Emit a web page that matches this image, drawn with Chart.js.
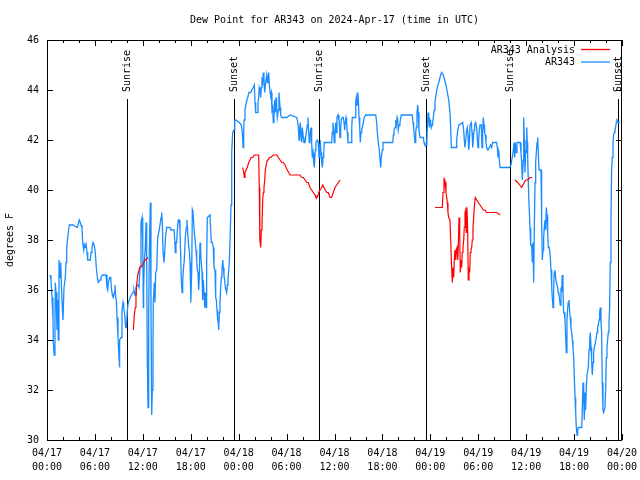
<!DOCTYPE html>
<html>
<head>
<meta charset="utf-8">
<title>Dew Point for AR343</title>
<script src="https://cdn.jsdelivr.net/npm/chart.js"></script>
<style>
  body { margin: 0; background: #fff; }
  #wrap { width: 640px; height: 480px; }
</style>
</head>
<body>
<div id="wrap"><canvas id="dewChart" width="640" height="480"></canvas></div>
<script>
// hours since 2024-04-17 00:00 UTC
const obsHours = [
  0.38,0.50,0.63,0.75,0.79,0.91,1.00,1.04,1.13,1.25,
  1.34,1.41,1.50,1.63,1.72,1.82,1.92,2.00,2.13,2.29,
  2.38,2.47,2.59,2.67,2.79,3.26,3.79,3.88,3.97,4.04,
  4.17,4.26,4.38,4.47,4.60,4.67,4.76,4.88,5.01,5.10,
  5.42,5.51,5.63,5.76,5.92,6.05,6.17,6.35,6.42,6.64,
  6.76,6.97,7.26,7.39,7.51,7.60,7.68,7.85,7.98,8.05,
  8.18,8.30,8.43,8.51,8.60,8.68,8.77,8.89,9.02,9.05,
  9.14,9.27,9.39,9.52,9.60,9.73,9.85,9.93,10.06,10.18,
  10.31,10.43,10.56,10.77,10.89,11.02,11.14,11.27,11.40,11.52,
  11.65,11.77,11.90,11.99,12.06,12.10,12.18,12.31,12.40,12.48,
  12.56,12.65,12.73,12.81,12.94,13.02,13.11,13.19,13.27,13.31,
  13.44,13.52,13.61,13.73,13.86,13.99,14.06,14.19,14.28,14.36,
  14.44,14.53,14.65,14.74,14.86,14.99,15.40,15.53,15.74,15.90,
  15.99,16.07,16.15,16.24,16.32,16.44,16.57,16.65,16.74,16.82,
  16.91,16.99,17.07,17.19,17.32,17.44,17.53,17.62,17.74,17.82,
  17.91,17.99,18.03,18.12,18.20,18.28,18.37,18.45,18.57,18.66,
  18.74,18.82,18.91,18.99,19.07,19.16,19.24,19.32,19.41,19.49,
  19.57,19.66,19.74,19.82,19.91,19.99,20.07,20.41,20.50,20.57,
  20.70,20.82,20.91,21.04,21.12,21.20,21.29,21.37,21.45,21.50,
  21.58,21.66,21.75,21.83,21.91,22.00,22.08,22.16,22.25,22.33,
  22.41,22.50,22.58,22.66,22.75,22.83,22.95,23.04,23.13,23.25,
  23.42,23.51,23.63,24.08,24.33,24.46,24.55,24.63,24.67,24.79,
  24.96,25.13,25.29,25.51,25.63,25.83,25.96,26.05,26.13,26.34,
  26.42,26.51,26.58,26.67,26.76,26.83,26.92,27.01,27.09,27.17,
  27.26,27.38,27.51,27.59,27.67,27.76,27.84,27.93,28.01,28.09,
  28.17,28.26,28.34,28.42,28.51,28.59,28.68,28.76,28.84,28.97,
  29.05,29.18,29.26,29.39,30.01,30.43,31.27,31.35,31.47,31.56,
  31.64,31.72,31.81,31.89,31.97,32.10,32.18,32.31,32.43,32.47,
  32.60,32.68,32.77,32.85,32.93,33.06,33.14,33.22,33.31,33.39,
  33.47,33.60,33.68,33.85,33.97,34.06,34.14,34.23,34.31,34.40,
  34.48,34.56,34.65,34.72,34.94,35.65,35.72,35.81,35.90,35.97,
  36.06,36.15,36.23,36.31,36.44,36.56,36.60,36.69,36.77,36.85,
  36.98,37.10,37.19,37.28,37.35,37.44,37.52,37.60,37.69,38.07,
  38.16,38.23,38.57,38.66,38.73,38.82,38.91,38.99,39.07,39.16,
  39.23,39.32,39.41,39.48,39.61,39.73,39.91,41.16,41.28,41.36,
  41.48,41.61,41.70,41.79,41.86,41.99,42.07,43.29,43.37,43.45,
  43.58,43.67,43.74,43.83,43.91,43.99,44.08,44.20,44.36,45.74,
  45.83,45.91,45.99,46.08,46.17,46.24,46.33,46.42,46.49,46.58,
  46.71,47.12,47.21,47.33,47.55,47.62,47.71,47.80,47.87,47.96,
  48.04,48.12,48.21,48.29,48.37,48.50,48.58,48.71,48.87,49.05,
  49.21,49.30,49.42,49.62,49.80,49.96,50.13,50.30,50.46,50.55,
  50.63,51.22,51.30,51.43,51.59,52.05,52.18,52.25,52.34,52.43,
  52.55,52.63,52.72,52.81,52.88,52.97,53.13,53.22,53.31,53.38,
  53.47,53.55,53.68,53.80,53.88,53.97,54.05,54.13,54.22,54.38,
  54.47,54.55,54.63,54.72,54.80,54.88,54.97,55.05,55.22,55.38,
  55.55,55.68,55.80,55.89,56.31,56.39,56.47,56.56,56.64,56.73,
  57.89,58.10,58.19,58.32,58.39,58.48,58.57,58.64,58.73,58.85,
  59.23,59.35,59.44,59.52,59.64,59.69,59.77,59.85,59.94,59.98,
  60.07,60.14,60.19,60.32,60.39,60.48,60.57,60.69,60.77,60.86,
  60.94,61.02,61.11,61.19,61.27,61.36,61.44,61.52,61.61,61.86,
  61.94,62.02,62.11,62.19,62.27,62.36,62.44,62.52,62.61,62.69,
  62.77,62.90,63.02,63.11,63.20,63.27,63.36,63.44,63.52,63.61,
  63.69,63.77,63.86,63.94,64.02,64.11,64.19,64.27,64.36,64.44,
  64.52,64.61,64.69,64.77,64.86,64.95,65.02,65.11,65.20,65.27,
  65.36,65.45,65.52,65.61,65.70,65.78,65.86,65.95,66.03,66.12,
  66.20,66.28,66.37,66.45,66.53,66.96,67.03,67.12,67.20,67.28,
  67.37,67.45,67.53,67.62,67.70,67.78,67.87,67.96,68.03,68.12,
  68.20,68.28,68.37,68.45,68.53,68.62,68.78,68.87,68.95,69.03,
  69.12,69.20,69.28,69.37,69.45,69.53,69.62,69.70,69.87,69.96,
  70.03,70.12,70.20,70.28,70.37,70.45,70.53,70.62,70.70,70.78,
  70.87,70.95,71.03,71.12,71.20,71.28,71.37,71.58,71.75
];
const obsValues = [
  36.6,36.4,35.7,34.8,33.9,33.4,34.8,36.3,35.9,34.4,
  35.6,34.0,37.2,36.5,37.1,36.0,35.3,34.8,36.1,36.5,
  37.1,37.7,38.1,38.3,38.6,38.6,38.5,38.5,38.7,38.8,
  38.7,38.6,38.5,37.9,37.6,37.8,37.7,37.9,37.5,37.2,
  37.2,37.5,37.7,37.9,37.8,37.5,36.9,36.4,36.3,36.4,
  36.5,36.6,36.6,36.6,36.1,36.0,36.3,36.5,36.5,36.1,
  35.8,35.7,35.9,36.2,35.7,35.6,34.9,34.1,33.3,32.9,
  34.0,34.1,35.2,35.5,35.3,35.0,34.5,34.5,35.2,35.5,
  35.6,35.7,35.8,35.9,36.0,35.8,36.1,36.2,36.2,36.1,
  36.9,38.7,38.9,37.8,35.3,36.0,37.1,37.7,38.7,37.2,
  33.2,31.3,34.9,37.5,39.5,35.3,31.0,32.0,33.7,35.5,
  36.3,35.5,36.7,36.8,38.1,38.3,38.4,38.7,38.9,39.1,
  38.7,37.5,37.1,37.5,38.2,38.5,38.5,38.4,38.4,38.4,
  38.0,37.5,37.9,37.9,38.4,38.8,38.8,38.4,37.4,36.4,
  35.9,36.3,36.8,37.2,38.1,38.5,38.8,38.3,37.7,37.6,
  37.1,36.5,35.5,36.8,39.2,39.1,38.7,38.3,37.9,37.6,
  37.2,36.8,36.7,36.0,36.5,37.9,37.5,37.1,36.7,35.6,
  36.4,35.9,35.3,35.9,35.3,37.1,38.9,39.0,38.4,37.9,
  37.9,37.7,36.9,36.8,35.7,35.6,35.2,34.8,34.7,34.4,
  35.1,35.5,36.1,36.5,36.8,37.2,36.9,36.6,36.4,36.1,
  36.0,35.9,36.2,36.4,36.8,37.1,38.3,39.4,41.5,42.3,
  42.4,42.8,42.8,42.7,42.6,42.3,41.7,42.2,42.8,43.2,
  43.5,43.7,43.9,43.9,44.0,44.1,44.2,43.5,43.1,43.1,
  43.5,43.7,44.1,44.0,43.7,44.1,44.4,44.3,44.7,44.4,
  43.9,44.3,44.6,44.3,44.5,44.7,44.2,43.9,43.8,43.9,
  43.2,43.3,42.7,42.9,43.6,43.1,43.7,43.3,42.9,43.2,
  43.9,43.3,43.0,42.9,42.9,43.0,42.9,42.8,42.5,42.0,
  42.5,42.7,42.2,41.9,42.5,42.1,41.9,41.9,41.9,42.3,
  42.6,42.9,42.3,41.9,42.2,42.5,41.9,41.3,41.5,41.1,
  40.9,41.6,41.9,42.0,41.9,41.3,41.8,41.9,41.5,41.1,
  40.9,41.3,41.5,41.9,41.9,41.9,42.3,42.7,42.3,41.9,
  42.3,42.7,42.3,42.9,43.0,42.8,42.7,42.1,42.5,42.8,
  42.9,42.9,42.7,42.4,42.7,42.9,42.7,42.3,41.9,41.9,
  42.5,42.9,42.9,43.5,43.7,43.4,43.9,43.6,42.9,42.5,
  41.9,42.3,42.4,42.5,42.7,42.9,43.0,43.0,42.7,42.3,
  41.9,41.6,41.2,40.9,41.3,41.6,41.9,41.9,42.2,42.4,
  42.5,42.8,42.6,42.9,42.8,42.4,42.6,42.7,43.0,43.0,
  42.7,42.5,42.2,41.9,42.3,42.5,43.1,43.4,43.1,42.4,
  42.1,42.1,41.9,41.8,41.8,42.5,43.1,42.9,42.5,42.8,
  42.7,42.5,42.6,42.7,42.9,43.2,43.5,43.8,44.1,44.3,
  44.5,44.6,44.7,44.6,44.4,44.2,43.9,43.6,43.1,42.5,
  41.7,41.7,42.0,42.4,42.6,42.7,42.4,42.0,41.7,42.0,
  42.4,42.5,42.2,41.6,41.9,42.6,42.7,42.3,41.7,42.0,
  42.4,42.6,42.7,42.5,42.1,41.7,42.0,42.4,42.6,42.6,
  41.7,42.3,42.9,42.6,42.3,42.2,41.9,41.7,41.6,41.7,
  41.8,41.7,41.9,41.9,41.9,41.7,41.3,41.6,41.2,40.9,
  40.9,41.0,41.2,41.4,41.6,41.9,41.3,41.9,41.5,41.9,
  41.9,41.5,41.1,40.4,41.2,42.9,42.0,40.7,41.6,41.5,
  42.5,41.9,41.3,39.7,39.2,38.5,37.8,37.8,37.1,37.9,
  36.3,38.5,40.3,41.1,41.5,41.9,42.1,41.5,40.8,40.8,
  38.8,37.2,37.6,38.1,38.5,38.8,38.4,39.3,39.0,38.3,
  37.7,37.7,37.3,36.8,36.1,35.7,35.3,36.0,36.7,36.8,
  36.5,36.3,36.3,36.1,35.9,35.8,35.6,35.4,36.1,35.9,
  36.6,36.0,35.1,35.1,34.8,34.1,33.5,34.8,35.3,35.5,
  35.6,35.1,34.9,34.5,34.3,34.0,33.7,33.3,32.5,31.7,
  31.1,30.5,30.2,30.4,30.5,30.5,31.3,32.3,31.7,30.8,
  31.9,31.2,32.1,32.6,32.6,32.9,33.6,34.0,34.3,33.7,
  33.2,32.6,33.1,33.5,33.7,33.8,34.1,34.3,34.5,34.6,
  34.8,35.1,35.3,34.7,34.3,32.3,31.2,31.1,31.3,32.1,
  33.3,33.7,34.0,34.3,34.7,35.3,37.1,38.9,40.8,41.3,
  41.9,42.2,42.3,42.4,42.5,42.7,42.8,42.7,42.7
];

// analysis series, null marks a gap
const anaHours = [
  10.81,10.93,11.06,11.14,11.23,11.36,11.61,11.98,12.27,12.69,
  18.00,
  24.51,24.63,24.71,24.79,24.92,25.08,25.26,25.42,25.55,25.76,
  25.96,26.17,26.42,26.51,26.58,26.63,26.67,26.76,26.83,26.92,
  27.01,27.09,27.17,27.26,27.34,27.51,27.59,27.71,27.84,28.01,
  28.34,28.64,28.80,28.97,29.18,29.39,29.59,29.80,29.93,30.09,
  30.26,30.43,30.64,31.05,31.27,31.47,31.68,31.89,32.10,32.31,
  32.52,32.72,32.93,33.14,33.35,33.56,33.68,33.85,34.02,34.18,
  34.40,34.52,34.69,34.85,35.02,35.22,35.44,35.65,35.85,36.06,
  36.28,36.48,36.69,
  42.00,
  48.58,49.50,49.59,49.71,49.80,49.87,49.96,50.05,50.13,50.21,
  50.30,50.46,50.55,50.63,50.71,50.75,50.84,50.92,51.00,51.09,
  51.18,51.25,51.34,51.43,51.50,51.59,51.68,51.75,51.84,51.93,
  52.00,52.09,52.18,52.25,52.34,52.43,52.50,52.59,52.68,52.75,
  52.84,52.93,53.00,53.09,53.18,53.25,53.34,53.43,53.50,53.63,
  53.80,54.01,54.22,54.43,54.63,54.85,55.05,55.47,55.89,56.31,
  56.73,
  57.50,
  58.60,58.94,59.19,59.44,59.60,59.77,59.94,60.19,60.48,60.77
];
const anaValues = [
  34.4,35.0,35.3,35.7,36.2,36.6,36.9,37.0,37.2,37.3,
  null,
  40.9,40.7,40.5,40.7,40.8,40.9,41.1,41.2,41.3,41.3,
  41.4,41.4,41.4,41.4,40.1,38.8,38.0,37.7,38.4,38.6,
  39.6,39.9,40.1,40.4,40.8,41.1,41.2,41.2,41.3,41.3,
  41.4,41.4,41.4,41.3,41.2,41.1,41.1,41.0,40.9,40.8,
  40.7,40.6,40.6,40.6,40.6,40.6,40.6,40.5,40.5,40.4,
  40.3,40.3,40.1,40.0,39.9,39.8,39.7,39.7,39.9,40.0,
  40.1,40.2,40.1,40.0,39.9,39.9,39.7,39.7,39.9,40.1,
  40.2,40.3,40.4,
  null,
  39.3,39.3,39.9,40.5,40.2,40.3,39.9,39.7,39.5,39.1,
  38.9,38.8,38.0,37.2,37.2,36.3,36.9,36.5,37.2,37.6,
  37.2,37.6,37.7,37.2,37.7,38.9,38.3,36.7,37.2,36.9,
  37.5,37.7,38.0,38.5,39.1,39.2,38.3,39.3,38.3,36.4,
  36.9,36.7,37.5,37.6,37.7,38.0,38.5,38.9,39.3,39.7,
  39.6,39.5,39.4,39.3,39.2,39.2,39.1,39.1,39.1,39.1,
  39.0,
  null,
  40.4,40.3,40.2,40.1,40.2,40.3,40.4,40.4,40.5,40.5
];

const tickHours = [0, 6, 12, 18, 24, 30, 36, 42, 48, 54, 60, 66, 72];
const tickDates = ['04/17','04/17','04/17','04/17','04/18','04/18','04/18','04/18','04/19','04/19','04/19','04/19','04/20'];
const tickTimes = ['00:00','06:00','12:00','18:00','00:00','06:00','12:00','18:00','00:00','06:00','12:00','18:00','00:00'];

const sunHours = [10.05, 23.45, 34.05, 47.45, 58.02, 71.5];
const sunLabels = ['Sunrise', 'Sunset', 'Sunrise', 'Sunset', 'Sunrise', 'Sunset'];

const FONT = "'DejaVu Sans Mono', 'Liberation Mono', monospace";
const RED = '#ff0000';
const BLUE = '#1a8cff';

function toPoints(hours, values) {
  return hours.map((h, i) => ({ x: h, y: values[i] }));
}

// gnuplot-like frame: border, inward ticks, legend, labels
const frame = {
  id: 'frame',
  beforeDatasetsDraw(chart) {
    const ctx = chart.ctx, a = chart.chartArea, xs = chart.scales.x;
    ctx.save();
    ctx.strokeStyle = '#000';
    ctx.lineWidth = 1;
    sunHours.forEach(h => {
      const px = Math.round(xs.getPixelForValue(h)) + 0.5;
      ctx.beginPath();
      ctx.moveTo(px, 99);
      ctx.lineTo(px, a.bottom);
      ctx.stroke();
    });
    ctx.restore();
  },
  afterDraw(chart) {
    const ctx = chart.ctx, a = chart.chartArea;
    const xs = chart.scales.x, ys = chart.scales.y;
    ctx.save();
    ctx.strokeStyle = '#000';
    ctx.lineWidth = 1;
    ctx.strokeRect(a.left + 0.5, a.top + 0.5, a.right - a.left - 1, a.bottom - a.top);

    ctx.beginPath();
    for (let h = 0; h <= 72; h += 2) {
      const px = Math.round(xs.getPixelForValue(h)) + 0.5;
      const len = h % 6 === 0 ? 6 : 3;
      ctx.moveTo(px, a.bottom); ctx.lineTo(px, a.bottom - len);
      ctx.moveTo(px, a.top); ctx.lineTo(px, a.top + len);
    }
    for (let v = 30; v <= 46; v += 2) {
      const py = Math.round(ys.getPixelForValue(v)) + 0.5;
      ctx.moveTo(a.left, py); ctx.lineTo(a.left + 6, py);
      ctx.moveTo(a.right, py); ctx.lineTo(a.right - 6, py);
    }
    ctx.stroke();

    ctx.fillStyle = '#000';
    ctx.font = '10px ' + FONT;

    // sunrise / sunset labels
    sunHours.forEach((h, i) => {
      const px = xs.getPixelForValue(h);
      ctx.save();
      ctx.translate(px, 92);
      ctx.rotate(-Math.PI / 2);
      ctx.textAlign = 'left';
      ctx.textBaseline = 'middle';
      ctx.fillText(sunLabels[i], 0, 0);
      ctx.restore();
    });

    // legend
    const names = chart.data.datasets.map(d => d.label);
    const colors = chart.data.datasets.map(d => d.borderColor);
    names.forEach((n, i) => {
      const y = 50 + i * 12.5;
      ctx.textAlign = 'right';
      ctx.textBaseline = 'middle';
      ctx.fillStyle = '#000';
      ctx.fillText(n, 575, y);
      ctx.strokeStyle = colors[i];
      ctx.lineWidth = 1.3;
      ctx.beginPath();
      ctx.moveTo(581, y - 0.5);
      ctx.lineTo(610, y - 0.5);
      ctx.stroke();
    });

    // title
    ctx.fillStyle = '#000';
    ctx.textAlign = 'center';
    ctx.textBaseline = 'middle';
    ctx.fillText('Dew Point for AR343 on 2024-Apr-17 (time in UTC)', (a.left + a.right) / 2, 20);

    // y title
    ctx.save();
    ctx.translate(10, 240);
    ctx.rotate(-Math.PI / 2);
    ctx.fillText('degrees F', 0, 0);
    ctx.restore();

    ctx.restore();
  }
};

new Chart(document.getElementById('dewChart'), {
  type: 'scatter',
  data: {
    datasets: [
      {
        label: 'AR343 Analysis',
        data: toPoints(anaHours, anaValues),
        showLine: true,
        spanGaps: false,
        borderColor: RED,
        borderWidth: 1.2,
        pointRadius: 0,
        tension: 0
      },
      {
        label: 'AR343',
        data: toPoints(obsHours, obsValues),
        showLine: true,
        borderColor: BLUE,
        borderWidth: 1.3,
        pointRadius: 0,
        tension: 0
      }
    ]
  },
  options: {
    responsive: false,
    animation: false,
    devicePixelRatio: 1,
    layout: { padding: { left: 0, top: 40, right: 18, bottom: 0 } },
    plugins: {
      legend: { display: false },
      title: { display: false },
      tooltip: { enabled: false }
    },
    scales: {
      x: {
        type: 'linear',
        min: 0,
        max: 72,
        afterFit(scale) {
          scale.height = 40;
          scale.paddingLeft = 0;
          scale.paddingRight = 0;
        },
        afterBuildTicks(scale) { scale.ticks = tickHours.map(v => ({ value: v })); },
        grid: { display: false, drawTicks: false },
        border: { display: false },
        ticks: {
          autoSkip: false,
          maxRotation: 0,
          padding: 6,
          color: '#000',
          font: { family: FONT, size: 10, lineHeight: 1.4 },
          callback(value) {
            const i = tickHours.indexOf(value);
            return i < 0 ? '' : [tickDates[i], tickTimes[i]];
          }
        }
      },
      y: {
        min: 30,
        max: 46,
        afterFit(scale) { scale.width = 47; },
        grid: { display: false, drawTicks: false },
        border: { display: false },
        ticks: {
          stepSize: 2,
          padding: 8,
          color: '#000',
          font: { family: FONT, size: 10 }
        }
      }
    }
  },
  plugins: [frame]
});
</script>
</body>
</html>
